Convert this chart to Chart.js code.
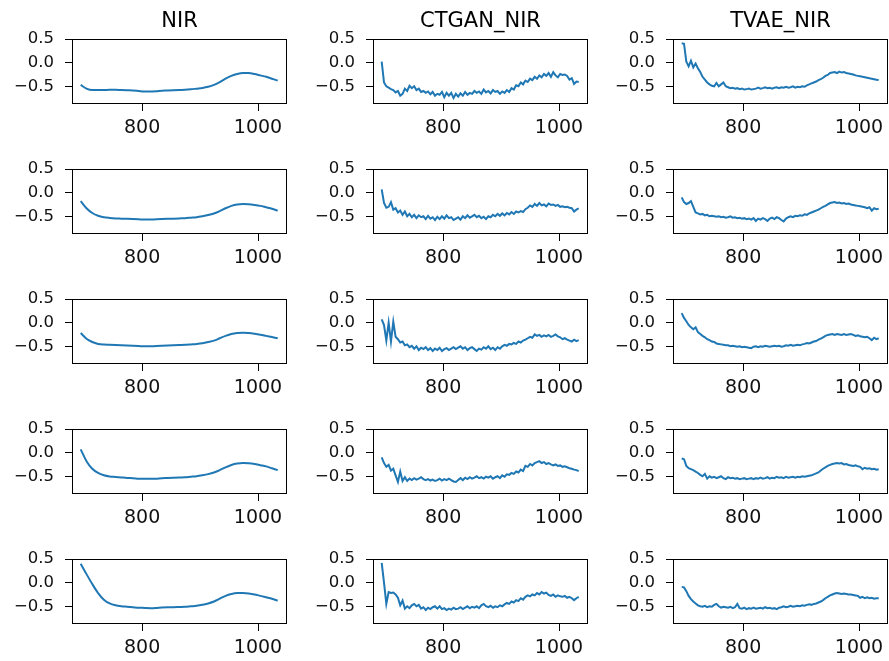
<!DOCTYPE html>
<html>
<head>
<meta charset="utf-8">
<script src="https://cdn.jsdelivr.net/npm/chart.js@4.4.1/dist/chart.umd.min.js"></script>
<style>
    html, body { margin: 0; padding: 0; background: #fff; overflow: hidden; }
    #grid { position: relative; width: 889px; height: 661px; }
    #grid canvas { position: absolute; }
</style>
</head>
<body>
<div id="grid"></div>
<script>
// ── spectra grid ─────────────────────────────────────────────────────────
// 5 samples (rows) x 3 sources (columns): real NIR, CTGAN and TVAE output.

const columnTitles = ['NIR', 'CTGAN_NIR', 'TVAE_NIR'];

const xTicks = [800, 1000];
const yTicks = [-0.5, 0, 0.5];

// real spectra are smooth, so they are sampled every 10 nm
const nirWavelengths = [
    694, 704, 714, 724, 734, 744, 754, 764, 774, 784, 794, 804, 814, 824, 834, 844, 854, 864,
    874, 884, 894, 904, 914, 924, 934, 944, 954, 964, 974, 984, 994, 1004, 1014, 1024, 1034
];

// synthetic spectra are noisy, sampled every 4 nm
const wavelengths = [
    694, 698, 702, 706, 710, 714, 718, 722, 726, 730,
    734, 738, 742, 746, 750, 754, 758, 762, 766, 770,
    774, 778, 782, 786, 790, 794, 798, 802, 806, 810,
    814, 818, 822, 826, 830, 834, 838, 842, 846, 850,
    854, 858, 862, 866, 870, 874, 878, 882, 886, 890,
    894, 898, 902, 906, 910, 914, 918, 922, 926, 930,
    934, 938, 942, 946, 950, 954, 958, 962, 966, 970,
    974, 978, 982, 986, 990, 994, 998, 1002, 1006, 1010,
    1014, 1018, 1022, 1026, 1030, 1034
];

const nirRow1 = [
    -0.47, -0.55, -0.58, -0.58, -0.58, -0.575, -0.575, -0.58, -0.585, -0.59, -0.60, -0.61,
    -0.61, -0.605, -0.595, -0.59, -0.585, -0.58, -0.575, -0.565, -0.55, -0.535, -0.51, -0.47,
    -0.41, -0.34, -0.28, -0.24, -0.22, -0.22, -0.24, -0.27, -0.30, -0.34, -0.38
];
const nirRow2 = [
    -0.18, -0.33, -0.43, -0.49, -0.52, -0.535, -0.545, -0.55, -0.555, -0.56, -0.565, -0.57,
    -0.57, -0.565, -0.56, -0.555, -0.55, -0.545, -0.54, -0.53, -0.52, -0.50, -0.475, -0.44,
    -0.39, -0.33, -0.28, -0.25, -0.24, -0.245, -0.26, -0.28, -0.31, -0.34, -0.38
];
const nirRow3 = [
    -0.22, -0.34, -0.41, -0.45, -0.465, -0.47, -0.475, -0.48, -0.485, -0.49, -0.495, -0.50,
    -0.50, -0.495, -0.49, -0.485, -0.48, -0.475, -0.47, -0.46, -0.45, -0.435, -0.41, -0.38,
    -0.33, -0.28, -0.24, -0.22, -0.215, -0.22, -0.235, -0.255, -0.28, -0.305, -0.33
];
const nirRow4 = [
    0.07, -0.18, -0.34, -0.43, -0.48, -0.505, -0.515, -0.525, -0.535, -0.54, -0.55, -0.555,
    -0.555, -0.55, -0.54, -0.535, -0.53, -0.525, -0.52, -0.51, -0.50, -0.48, -0.455, -0.42,
    -0.37, -0.31, -0.26, -0.23, -0.22, -0.225, -0.24, -0.265, -0.29, -0.33, -0.37
];
const nirRow5 = [
    0.40, 0.18, -0.03, -0.22, -0.36, -0.44, -0.48, -0.50, -0.51, -0.52, -0.53, -0.535,
    -0.54, -0.535, -0.525, -0.52, -0.52, -0.515, -0.51, -0.50, -0.49, -0.47, -0.44, -0.40,
    -0.34, -0.28, -0.24, -0.22, -0.22, -0.23, -0.25, -0.28, -0.31, -0.34, -0.38
];

const ctganRow1 = [
    0.02, -0.42, -0.50, -0.53, -0.56, -0.58, -0.63, -0.60, -0.70, -0.66,
    -0.55, -0.60, -0.49, -0.54, -0.50, -0.58, -0.55, -0.62, -0.60, -0.64,
    -0.61, -0.67, -0.62, -0.70, -0.66, -0.68, -0.62, -0.73, -0.64, -0.70,
    -0.64, -0.75, -0.66, -0.72, -0.65, -0.70, -0.62, -0.68, -0.64, -0.66,
    -0.60, -0.64, -0.61, -0.66, -0.57, -0.63, -0.60, -0.65, -0.58, -0.62,
    -0.60, -0.66, -0.61, -0.64, -0.58, -0.62, -0.54, -0.57, -0.48, -0.50,
    -0.42, -0.46, -0.38, -0.41, -0.34, -0.37, -0.30, -0.34, -0.27, -0.31,
    -0.24, -0.28, -0.22, -0.30, -0.20, -0.27, -0.31, -0.24, -0.26, -0.25,
    -0.28, -0.36, -0.33, -0.45, -0.40, -0.41
];
const ctganRow2 = [
    0.07, -0.22, -0.32, -0.30, -0.20, -0.36, -0.33, -0.42, -0.38, -0.47,
    -0.40, -0.50, -0.45, -0.52, -0.47, -0.54, -0.48, -0.52, -0.50, -0.56,
    -0.49, -0.55, -0.52, -0.58, -0.51, -0.56, -0.50, -0.55, -0.48, -0.54,
    -0.52, -0.58, -0.55, -0.52, -0.57, -0.50, -0.54, -0.48, -0.53, -0.50,
    -0.47, -0.52, -0.49, -0.54, -0.51, -0.56, -0.50, -0.52, -0.47, -0.50,
    -0.45, -0.49, -0.44, -0.48, -0.43, -0.46, -0.41, -0.45, -0.40, -0.42,
    -0.39, -0.41, -0.35, -0.32, -0.27, -0.30, -0.24, -0.28, -0.22, -0.27,
    -0.25, -0.29, -0.23, -0.26, -0.25, -0.28, -0.26, -0.30, -0.29, -0.31,
    -0.30, -0.32, -0.33, -0.40, -0.36, -0.33
];
const ctganRow3 = [
    0.07, -0.05, -0.38, 0.00, -0.40, 0.02, -0.30, -0.35, -0.42, -0.40,
    -0.48, -0.46, -0.52, -0.49, -0.55, -0.50, -0.58, -0.53, -0.56, -0.52,
    -0.58, -0.54, -0.60, -0.55, -0.58, -0.53, -0.60, -0.56, -0.54, -0.58,
    -0.55, -0.52, -0.56, -0.53, -0.50, -0.55, -0.52, -0.58, -0.54, -0.52,
    -0.56, -0.60, -0.55, -0.57, -0.52, -0.55, -0.50, -0.56, -0.53, -0.58,
    -0.52, -0.55, -0.50, -0.47, -0.49, -0.45, -0.46, -0.43, -0.45, -0.40,
    -0.42, -0.38, -0.36, -0.33, -0.30, -0.32, -0.25, -0.28, -0.26, -0.30,
    -0.27, -0.29, -0.26, -0.30, -0.28, -0.25, -0.29, -0.31, -0.35, -0.33,
    -0.36, -0.38, -0.40, -0.36, -0.39, -0.37
];
const ctganRow4 = [
    -0.10, -0.22, -0.30, -0.26, -0.38, -0.34, -0.48, -0.62, -0.40, -0.60,
    -0.52, -0.60, -0.55, -0.58, -0.54, -0.57, -0.55, -0.52, -0.56, -0.58,
    -0.56, -0.59, -0.57, -0.60, -0.58, -0.55, -0.59, -0.56, -0.58, -0.55,
    -0.58, -0.61, -0.62, -0.58, -0.54, -0.58, -0.53, -0.56, -0.52, -0.55,
    -0.53, -0.50, -0.54, -0.52, -0.55, -0.51, -0.53, -0.50, -0.55, -0.52,
    -0.50, -0.54, -0.48, -0.51, -0.46, -0.47, -0.43, -0.45, -0.40, -0.42,
    -0.36, -0.39, -0.28, -0.30, -0.24, -0.27, -0.22, -0.20, -0.18, -0.22,
    -0.20, -0.24, -0.22, -0.25, -0.27, -0.25, -0.28, -0.27, -0.30, -0.29,
    -0.31, -0.33, -0.34, -0.36, -0.37, -0.39
];
const ctganRow5 = [
    0.42, 0.00, -0.45, -0.20, -0.22, -0.21, -0.25, -0.32, -0.48, -0.38,
    -0.55, -0.50, -0.54, -0.48, -0.45, -0.50, -0.47, -0.55, -0.52, -0.58,
    -0.53, -0.56, -0.52, -0.50, -0.55, -0.50, -0.56, -0.54, -0.58, -0.55,
    -0.57, -0.53, -0.56, -0.55, -0.52, -0.56, -0.53, -0.50, -0.54, -0.51,
    -0.53, -0.50, -0.54, -0.48, -0.45, -0.50, -0.52, -0.49, -0.53, -0.50,
    -0.52, -0.48, -0.50, -0.46, -0.43, -0.45, -0.40, -0.42, -0.37, -0.39,
    -0.33, -0.36, -0.30, -0.27, -0.29, -0.25, -0.27, -0.22, -0.25, -0.20,
    -0.23, -0.21, -0.26, -0.28, -0.25, -0.30, -0.27, -0.29, -0.30, -0.28,
    -0.32, -0.30, -0.33, -0.37, -0.33, -0.30
];

const tvaeRow1 = [
    0.41, 0.40, 0.02, -0.08, 0.04, -0.10, -0.02, -0.12, -0.20, -0.30,
    -0.36, -0.42, -0.46, -0.49, -0.50, -0.43, -0.50, -0.46, -0.42, -0.50,
    -0.52, -0.54, -0.53, -0.55, -0.54, -0.56, -0.55, -0.57, -0.56, -0.55,
    -0.57, -0.56, -0.55, -0.53, -0.55, -0.54, -0.52, -0.54, -0.53, -0.55,
    -0.53, -0.52, -0.54, -0.52, -0.53, -0.51, -0.53, -0.52, -0.50, -0.53,
    -0.51, -0.52, -0.50, -0.51, -0.48, -0.46, -0.44, -0.42, -0.40, -0.37,
    -0.35, -0.32, -0.28, -0.26, -0.22, -0.21, -0.20, -0.22, -0.19, -0.21,
    -0.20, -0.22, -0.23, -0.24, -0.25, -0.27, -0.28, -0.29, -0.30, -0.31,
    -0.32, -0.33, -0.34, -0.35, -0.36, -0.37
];
const tvaeRow2 = [
    -0.10, -0.20, -0.24, -0.22, -0.18, -0.30, -0.42, -0.44, -0.46, -0.45,
    -0.48, -0.47, -0.50, -0.49, -0.50, -0.51, -0.50, -0.52, -0.51, -0.53,
    -0.52, -0.50, -0.53, -0.52, -0.54, -0.53, -0.55, -0.54, -0.56, -0.55,
    -0.57, -0.54, -0.60, -0.55, -0.57, -0.54, -0.56, -0.60, -0.55, -0.53,
    -0.56, -0.52, -0.54, -0.58, -0.61, -0.55, -0.52, -0.50, -0.52, -0.49,
    -0.50, -0.48, -0.49, -0.46, -0.47, -0.44, -0.42, -0.40, -0.38, -0.36,
    -0.33, -0.30, -0.28, -0.25, -0.22, -0.21, -0.20, -0.22, -0.21, -0.23,
    -0.22, -0.24, -0.23, -0.25, -0.26, -0.27, -0.28, -0.29, -0.30, -0.31,
    -0.33, -0.31, -0.38, -0.33, -0.35, -0.34
];
const tvaeRow3 = [
    0.20, 0.10, 0.03, -0.05, -0.10, -0.14, -0.10, -0.20, -0.24, -0.28,
    -0.31, -0.35, -0.37, -0.40, -0.41, -0.44, -0.45, -0.46, -0.47, -0.48,
    -0.48, -0.50, -0.49, -0.50, -0.51, -0.50, -0.52, -0.51, -0.52, -0.53,
    -0.54, -0.51, -0.50, -0.52, -0.50, -0.51, -0.49, -0.50, -0.51, -0.50,
    -0.49, -0.50, -0.49, -0.51, -0.50, -0.48, -0.49, -0.47, -0.49, -0.48,
    -0.47, -0.48, -0.46, -0.45, -0.43, -0.44, -0.42, -0.40, -0.39, -0.36,
    -0.34, -0.31, -0.28, -0.26, -0.25, -0.24, -0.26, -0.24, -0.25, -0.26,
    -0.24, -0.26, -0.25, -0.24, -0.26, -0.28, -0.27, -0.29, -0.30, -0.31,
    -0.30, -0.33, -0.37, -0.32, -0.35, -0.33
];
const tvaeRow4 = [
    -0.12, -0.14, -0.28, -0.33, -0.35, -0.37, -0.40, -0.43, -0.47, -0.50,
    -0.45, -0.55, -0.50, -0.53, -0.51, -0.54, -0.52, -0.50, -0.54, -0.56,
    -0.52, -0.54, -0.53, -0.55, -0.54, -0.56, -0.55, -0.54, -0.56, -0.55,
    -0.54, -0.56, -0.54, -0.55, -0.53, -0.55, -0.54, -0.52, -0.55, -0.53,
    -0.54, -0.51, -0.53, -0.52, -0.54, -0.51, -0.53, -0.52, -0.51, -0.53,
    -0.51, -0.52, -0.50, -0.51, -0.50, -0.49, -0.48, -0.46, -0.44, -0.42,
    -0.38, -0.34, -0.31, -0.28, -0.26, -0.24, -0.23, -0.22, -0.23, -0.22,
    -0.25, -0.24, -0.26, -0.27, -0.28, -0.27, -0.29, -0.30, -0.35, -0.32,
    -0.34, -0.33, -0.35, -0.34, -0.36, -0.35
];
const tvaeRow5 = [
    -0.09, -0.10, -0.18, -0.28, -0.35, -0.40, -0.44, -0.48, -0.50, -0.51,
    -0.49, -0.52, -0.50, -0.51, -0.47, -0.45, -0.50, -0.53, -0.51, -0.52,
    -0.53, -0.51, -0.54, -0.52, -0.45, -0.54, -0.55, -0.53, -0.56, -0.54,
    -0.55, -0.53, -0.55, -0.54, -0.53, -0.55, -0.52, -0.54, -0.53, -0.55,
    -0.54, -0.56, -0.53, -0.52, -0.50, -0.52, -0.51, -0.49, -0.51, -0.50,
    -0.49, -0.50, -0.48, -0.49, -0.47, -0.46, -0.47, -0.45, -0.44, -0.42,
    -0.40, -0.37, -0.33, -0.30, -0.27, -0.25, -0.23, -0.22, -0.23, -0.24,
    -0.23, -0.24, -0.25, -0.25, -0.26, -0.27, -0.28, -0.32, -0.30, -0.33,
    -0.31, -0.33, -0.32, -0.34, -0.33, -0.33
];

const panelRows = [
    [nirRow1, ctganRow1, tvaeRow1],
    [nirRow2, ctganRow2, tvaeRow2],
    [nirRow3, ctganRow3, tvaeRow3],
    [nirRow4, ctganRow4, tvaeRow4],
    [nirRow5, ctganRow5, tvaeRow5]
];

// ── layout (pixel box of each axes) ──────────────────────────────────────
const AXES_LEFT = [72, 373, 673];
const AXES_TOP = [39, 169, 299, 429, 559];
const AXES_W = 215;
const AXES_H = 65;
const Y_AXIS_W = 72;
const X_AXIS_H = 37;
const TOP_PAD = 36;
const RIGHT_PAD = 4;

const FONT = '"DejaVu Sans", Arial, sans-serif';
const LINE_COLOR = '#1f77b4';

// black box round each axes + column title above the first row
const framePlugin = {
    id: 'frame',
    afterDraw(chart, args, opts) {
        const a = chart.chartArea;
        const ctx = chart.ctx;
        ctx.save();
        ctx.strokeStyle = '#000';
        ctx.lineWidth = 1;
        ctx.strokeRect(Math.round(a.left) + 0.5, Math.round(a.top) + 0.5,
            Math.round(a.right - a.left) - 1, Math.round(a.bottom - a.top) - 1);
        if (opts.title) {
            ctx.fillStyle = '#000';
            ctx.font = '21px ' + FONT;
            ctx.textAlign = 'center';
            ctx.textBaseline = 'alphabetic';
            ctx.fillText(opts.title, (a.left + a.right) / 2, a.top - 12);
        }
        ctx.restore();
    }
};

function fmtY(v) {
    return v.toFixed(1).replace('-', '\u2212');
}

function makePanel(row, col) {

    const grid = document.getElementById('grid');
    const canvas = document.createElement('canvas');
    const w = Y_AXIS_W + AXES_W + RIGHT_PAD;
    const h = TOP_PAD + AXES_H + X_AXIS_H;

    canvas.width = w;
    canvas.height = h;
    canvas.style.width = w + 'px';
    canvas.style.height = h + 'px';
    canvas.style.left = (AXES_LEFT[col] - Y_AXIS_W) + 'px';
    canvas.style.top = (AXES_TOP[row] - TOP_PAD) + 'px';
    grid.appendChild(canvas);

    const xs = col === 0 ? nirWavelengths : wavelengths;
    const ys = panelRows[row][col];
    const points = ys.map((v, i) => ({ x: xs[i], y: v }));

    new Chart(canvas, {
        type: 'line',
        data: {
            datasets: [{
                data: points,
                borderColor: LINE_COLOR,
                borderWidth: 2,
                pointRadius: 0,
                fill: false,
                tension: col === 0 ? 0.4 : 0,
                cubicInterpolationMode: col === 0 ? 'monotone' : 'default'
            }]
        },
        options: {
            responsive: false,
            animation: false,
            devicePixelRatio: 1,
            layout: { padding: { top: TOP_PAD, right: RIGHT_PAD, left: 0, bottom: 0 } },
            plugins: {
                legend: { display: false },
                tooltip: { enabled: false },
                frame: { title: row === 0 ? columnTitles[col] : '' }
            },
            scales: {
                x: {
                    type: 'linear',
                    min: 679,
                    max: 1050,
                    afterBuildTicks: s => { s.ticks = xTicks.map(v => ({ value: v })); },
                    afterFit: s => { s.height = X_AXIS_H; },
                    grid: { drawOnChartArea: false, drawTicks: true, tickLength: 7, tickColor: '#000', tickWidth: 1 },
                    border: { display: false },
                    ticks: {
                        font: { family: FONT, size: 19 }, color: '#111', padding: 6,
                        maxRotation: 0, autoSkip: false, callback: v => String(v)
                    }
                },
                y: {
                    type: 'linear',
                    min: -0.875,
                    max: 0.5,
                    afterBuildTicks: s => { s.ticks = yTicks.map(v => ({ value: v })); },
                    afterFit: s => { s.width = Y_AXIS_W; },
                    grid: { drawOnChartArea: false, drawTicks: true, tickLength: 7, tickColor: '#000', tickWidth: 1 },
                    border: { display: false },
                    ticks: {
                        font: { family: FONT, size: 16.5 }, color: '#111', padding: 11,
                        autoSkip: false, callback: v => fmtY(v)
                    }
                }
            }
        },
        plugins: [framePlugin]
    });
}

for (let r = 0; r < AXES_TOP.length; r++) {
    for (let c = 0; c < AXES_LEFT.length; c++) {
        makePanel(r, c);
    }
}
</script>
</body>
</html>
